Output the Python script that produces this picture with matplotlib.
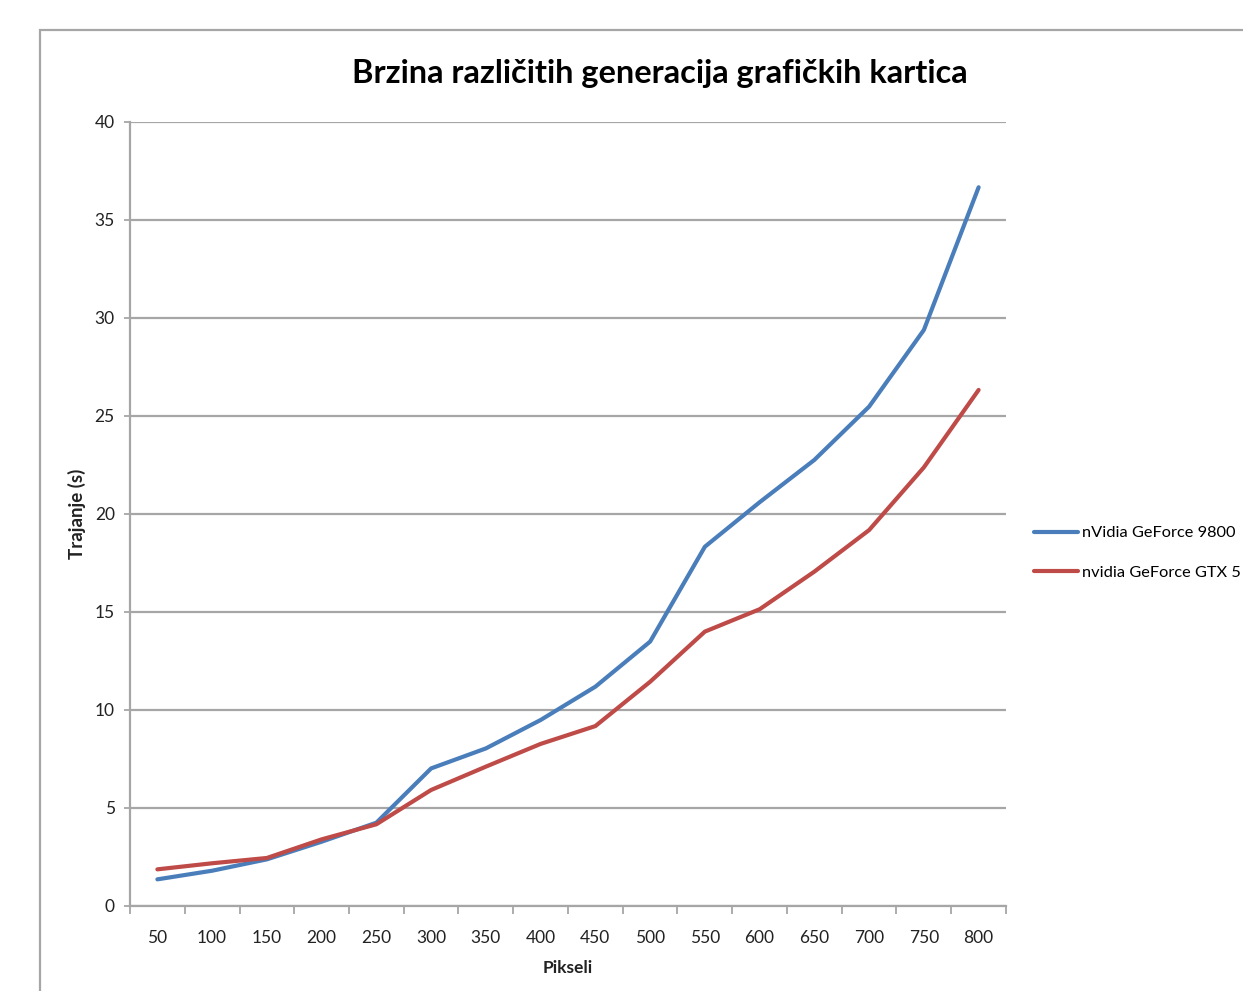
import matplotlib
matplotlib.use('Agg')
import matplotlib.pyplot as plt
import numpy as np
from matplotlib.patches import Rectangle

# values
pikseli = ['50', '100', '150', '200', '250', '300', '350', '400',
           '450', '500', '550', '600', '650', '700', '750', '800']
gf9800 = [1.36, 1.80, 2.38, 3.28, 4.25, 7.02, 8.04, 9.49,
          11.19, 13.49, 18.33, 20.6, 22.76, 25.48, 29.39, 36.67]
gtx5 = [1.87, 2.18, 2.45, 3.40, 4.17, 5.92, 7.11, 8.27,
        9.18, 11.44, 14.0, 15.14, 17.06, 19.18, 22.38, 26.33]
# only the part of the legend names that is visible in the reference
series_names = ['nVidia GeForce 9800', 'nvidia GeForce GTX 5']
y_ticks = [0, 5, 10, 15, 20, 25, 30, 35, 40]

plt.rcParams['font.family'] = ['Lato', 'DejaVu Sans']

W, H = 1243, 991
fig = plt.figure(figsize=(W / 100, H / 100), dpi=100)
fig.patch.set_facecolor('white')

# outer chart-area frame (runs off right and bottom edges)
frame = Rectangle((40 / W, -0.1), 2.0, 1 - 30 / H + 0.1, transform=fig.transFigure,
                  fill=False, edgecolor='#a6a6a6', linewidth=1.6)
fig.patches.append(frame)

ax = fig.add_axes([130 / W, (H - 906) / H, (1006 - 130) / W, (906 - 122) / H])
x = np.arange(len(pikseli))
l1, = ax.plot(x, gf9800, color='#4a7ebb', linewidth=3, solid_capstyle='round', zorder=3)
l2, = ax.plot(x, gtx5, color='#be4b48', linewidth=3, solid_capstyle='round', zorder=3)

ax.set_xlim(-0.5, len(pikseli) - 0.5)
ax.set_ylim(0, 40)
ax.set_yticks(y_ticks)
ax.set_yticklabels([str(v) for v in y_ticks])
ax.set_xticks(x)
ax.set_xticklabels(pikseli)
ax.set_xticks(np.arange(-0.5, len(pikseli)), minor=True)

ax.grid(axis='y', color='#a6a6a6', linewidth=1.6, zorder=0)
ax.set_axisbelow(True)
for s in ['top', 'right']:
    ax.spines[s].set_visible(False)
for s in ['left', 'bottom']:
    ax.spines[s].set_color('#a6a6a6')
    ax.spines[s].set_linewidth(1.6)

ax.tick_params(axis='x', which='major', length=0, pad=17, labelsize=12.5, labelcolor='#222222')
ax.tick_params(axis='x', which='minor', length=6, width=1.3, color='#a6a6a6', direction='out')
ax.tick_params(axis='y', length=4, width=1.3, color='#a6a6a6', pad=7, labelsize=12.5,
               labelcolor='#222222')

fig.text(660 / W, 1 - 73 / H, 'Brzina različitih generacija grafičkih kartica',
         ha='center', va='center', fontsize=23.4, fontweight='bold', color='black')
fig.text(568 / W, 1 - 968 / H, 'Pikseli', ha='center', va='center',
         fontsize=12.5, fontweight='bold', color='#222222')
fig.text(77 / W, 1 - 514 / H, 'Trajanje (s)', ha='center', va='center', rotation=90,
         fontsize=13.5, fontweight='bold', color='#222222')

ax.legend([l1, l2], series_names, loc='center left',
          bbox_to_anchor=(1034 / W, 1 - 553 / H), bbox_transform=fig.transFigure,
          frameon=False, fontsize=11.8, handlelength=2.7, handletextpad=0.25,
          labelspacing=1.55, borderaxespad=0, borderpad=0)

fig.savefig('out.png', dpi=100)
